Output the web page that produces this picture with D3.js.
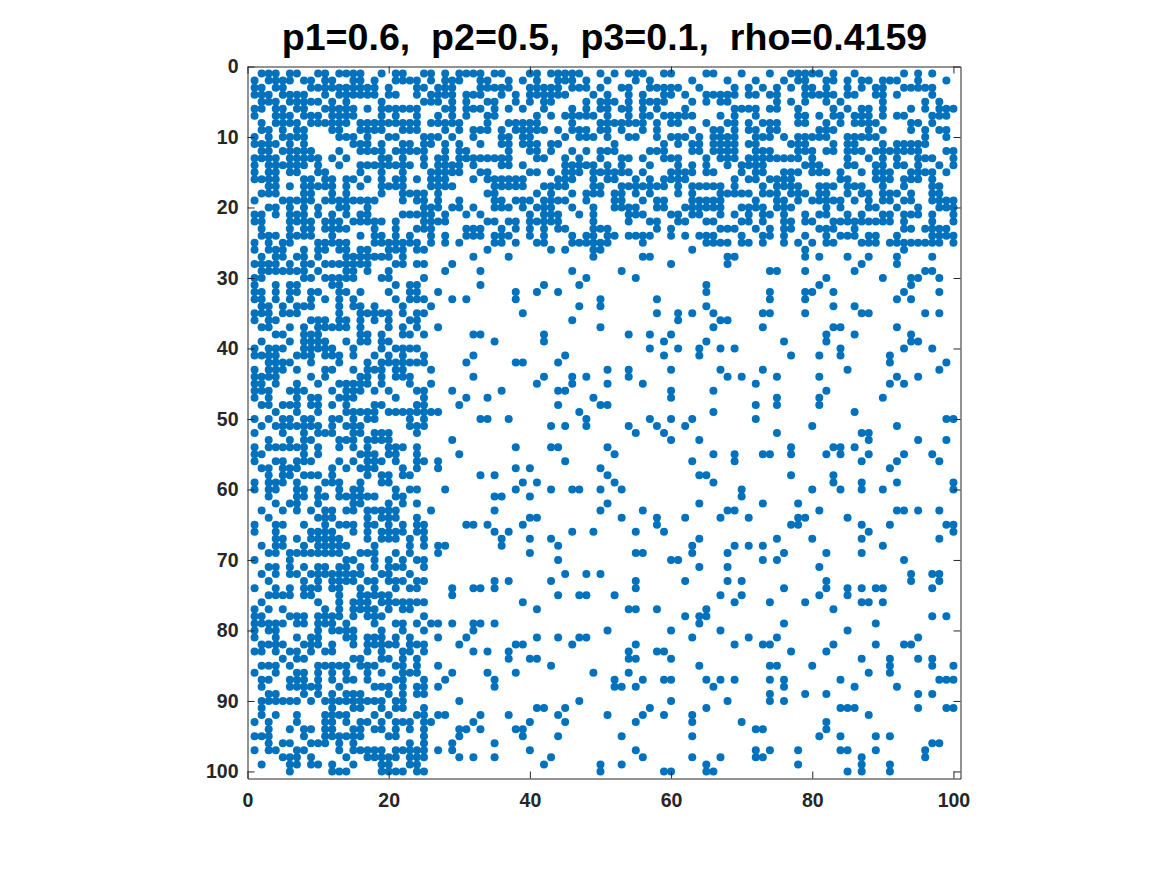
<!DOCTYPE html>
<html>
<head>
<meta charset="utf-8">
<script src="https://cdn.jsdelivr.net/npm/d3@7"></script>
<style>
  html, body { margin: 0; padding: 0; background: #fff; }
  svg { display: block; }
  text { font-family: "Liberation Sans", Arial, sans-serif; font-weight: bold; }
</style>
</head>
<body>
<div id="chart"></div>
<script>
const titleText = "p1=0.6,\u00a0\u00a0p2=0.5,\u00a0\u00a0p3=0.1,\u00a0\u00a0rho=0.4159";
const xTicks = [0, 20, 40, 60, 80, 100];
const yTicks = [0, 10, 20, 30, 40, 50, 60, 70, 80, 90, 100];

// nonzero columns per row (rows 1 to 100): columns 1-34
const leftCols = [
  [2,3,4,6,7,10,11,13,14,15,16,19,21,22,25,26,28,30,31,32],
  [1,3,4,5,6,8,9,11,12,15,16,18,21,22,23,24,26,28,29,30],
  [1,2,4,5,9,10,11,12,13,14,15,16,17,18,20,24,25,27,28,29],
  [1,2,3,5,6,7,8,11,13,14,15,16,17,18,20,21,24,26,27,28,29,31,32],
  [2,3,4,6,7,8,9,10,12,14,19,25,26,27,29,31],
  [1,2,4,5,7,8,11,12,13,14,15,17,19,20,21,22,23,24,28,29,31,32],
  [1,4,5,6,8,9,10,12,13,14,15,19,21,24,27,29,31],
  [2,4,5,6,7,9,10,11,12,13,14,16,17,18,19,20,21,22,23,24,26,27,28,29,30],
  [2,3,5,7,8,12,13,16,17,18,19,22,23,24,28,30,32],
  [1,3,5,6,7,8,13,14,15,17,20,21,25,26,27,29,32],
  [1,2,3,4,6,8,15,16,17,19,22,23,25,26,28,30],
  [2,3,5,6,7,8,9,13,16,17,18,19,21,22,23,24,25,28,30,31],
  [1,2,3,4,6,7,8,9,10,12,14,19,20,22,25,27,28,30,31,32],
  [1,3,4,5,6,7,8,10,13,16,17,18,19,20,21,22,23,25,27,28,29,30,32],
  [1,3,4,6,7,10,11,16,19,22,26,27,28,29,30],
  [1,2,3,4,8,9,11,12,14,15,17,19,21,22,24,26,27,28,32],
  [3,4,6,8,9,10,11,12,14,16,19,20,21,22,26,27,28,29],
  [2,3,4,8,9,12,14,19,22,23,24,25,27],
  [1,5,6,7,8,9,11,12,13,14,15,16,17,18,22,24,25,27,30],
  [3,4,6,8,10,13,14,17,25,26,27,29,30,32],
  [1,2,4,6,7,8,10,12,14,16,17,22,23,24,25,26,28,31],
  [1,2,6,7,8,9,11,12,13,15,16,17,18,19,21,25,26,27,28],
  [2,6,8,9,11,12,13,14,18,21,24,25,26,31,32],
  [2,3,4,6,7,8,9,12,16,18,19,21,23,26,28,31,32],
  [1,3,5,6,10,11,12,13,14,18,19,20,21,22,23,24,26,28,30],
  [1,3,4,5,8,10,11,13,14,16,17,20,21,22,24,25,34],
  [2,4,5,7,8,10,14,15,16,17,18,19,20,22,32],
  [1,2,3,4,6,8,9,11,12,13,14,15,16,17,21,22,24,25,29],
  [2,3,4,5,6,7,8,10,14,15,17,20,28,33],
  [1,2,8,9,11,12,13,14,15,19,20,25],
  [1,4,6,7,12,13,21,23,24,33],
  [1,2,4,6,7,9,10,13,14,16,20,23,24,27],
  [1,2,4,6,9,11,13,15,21,23,24,25,29,31],
  [2,3,5,7,8,9,13,15,16,18,22,26],
  [1,2,3,5,6,7,13,16,17,18,19,20,22,24,25],
  [1,3,4,9,10,11,13,14,16,18,20,23,24],
  [2,3,6,8,10,11,12,13,14,16,20,22,24,27],
  [4,5,8,9,10,16,17,19,22,23,25,32,33],
  [2,6,8,9,10,11,14,16,17,19,20],
  [1,3,4,5,8,9,10,11,12,15,19,21,22,23,24],
  [1,2,3,4,7,8,9,11,12,13,15,18,20,22,25,32],
  [3,4,5,6,9,13,17,19,20,21,22,23,24,25,31],
  [1,3,4,5,7,11,12,15,17,18,19,21,22,26],
  [1,2,3,4,9,11,16,17,19,21,22,23,32],
  [1,2,4,7,10,13,14,15,16,17,19,23,26],
  [1,2,3,6,7,8,12,14,15,16,18,20,24,25,29],
  [1,3,7,9,10,13,14,15,21,25,31,34],
  [2,3,5,6,7,9,10,12,14,18,19,24,25,30],
  [4,7,10,14,15,16,17,18,20,21,22,23,24,25,26,27],
  [1,3,5,6,8,9,12,13,15,17,18,23,25,33],
  [2,4,5,6,7,8,9,10,12,14,15,16,23,24,25],
  [1,5,8,10,11,12,15,16,18,19,20,24],
  [3,6,8,9,13,14,15,17,18,19,20,29],
  [1,3,4,5,6,7,8,10,13,15,17,20,21,22,24],
  [1,2,8,10,16,17,18,20,21,24,30],
  [1,4,5,7,8,9,13,15,17,18,19,21,24,25,27],
  [2,3,5,6,7,12,14,16,17,18,22,24,27],
  [3,5,6,8,9,10,12,17,19,20,22,23,33],
  [1,3,4,5,7,11,12,13,16,19,20],
  [1,3,4,7,8,10,13,15,16,21,23,24,28],
  [3,7,8,10,11,13,14,15,16,17,18,21,22],
  [4,6,7,10,15,16,20,22,24],
  [2,5,7,9,11,12,14,15,17,18,19,20,21,26],
  [3,10,11,12,17,19,20,21,24],
  [1,4,5,8,11,13,14,15,17,18,20,22,24,25,31,32,34],
  [1,4,9,10,11,12,15,17,19,20,21,22,24,25],
  [4,5,7,9,10,11,12,13,17,19,20,21,23,25],
  [2,4,5,8,10,11,12,13,14,18,23,25,27,28],
  [3,4,6,7,8,9,10,11,12,13,16,17,18,21,23,27],
  [1,6,14,15,18,20,22,24,25],
  [3,4,6,8,10,11,13,14,16,18,20,21,22,25],
  [2,4,6,7,9,10,11,12,13,14,15,16,19,20,23],
  [3,8,10,12,13,14,15,17,18,20,21,22,24,25],
  [1,4,6,8,9,10,12,13,16,18,21,23,24,29,32,33],
  [3,4,5,6,8,9,13,16,17,18,19,20,29],
  [2,10,13,15,16,17,19,20,21,22,23,24,25],
  [1,3,5,11,13,15,16,17,18,20,22,23],
  [1,2,6,7,8,10,11,12,13,15,17,18,19,25],
  [1,2,3,4,5,7,8,10,11,12,14,18,21,22,24,26,27,29,32,33],
  [1,3,4,10,12,13,14,15,19,22,25,32],
  [1,4,7,9,10,14,15,17,18,19,21,23,27,31],
  [2,3,4,5,8,9,10,12,15,17,18,19,20,21,23,24,25,30],
  [1,2,4,6,7,9,11,12,17,19,22,23,25,32,34],
  [5,7,8,15,16,19,20,22,24],
  [2,3,4,6,10,11,12,13,14,16,17,18,21,22,24,27],
  [1,4,7,8,10,12,14,17,19,22,23,24,29,34],
  [2,3,6,7,8,10,12,14,15,17,21,22,25,28],
  [2,6,7,8,9,10,13,18,19,20,22,24,25,27],
  [3,4,8,10,12,14,15,16,20,22,24,25],
  [2,3,4,5,6,7,9,11,12,13,14,15,16,17,18,19,21,22,30],
  [2,12,15,16,19,21,22,25],
  [2,4,7,11,12,13,14,18,20,24,25,27,28,33],
  [1,3,7,11,12,14,16,17,19,21,22,23,25,26,32],
  [3,6,8,9,11,12,15,16,18,19,21,23,25,30,31,33],
  [1,2,3,8,11,12,13,14,15,16,20,21,25,30],
  [3,5,6,9,10,11,13,15,23,25,29],
  [1,3,4,7,8,13,15,16,17,18,19,21,22,23,24,25,27,29],
  [5,6,7,9,14,17,18,19,20,21,23,24,25,30,32],
  [2,6,7,9,10,12,15,19,20,23,24],
  [6,12,13,14,19,20,21,22,24,25]
];

// columns 33-67
const midCols = [
  [33,35,36,40,41,43,44,45,46,47,50,52,54,55,56,59,60,65,66],
  [33,34,37,39,41,44,45,46,48,51,55,57,63],
  [33,34,35,36,37,40,41,42,43,44,46,47,48,50,53,54,57,58,59,60,61,64],
  [33,36,38,40,41,42,43,44,45,49,51,54,56,59,60,62,65,66,67],
  [34,35,38,40,42,43,48,50,51,52,54,56,57,58,59,63,65],
  [33,35,37,39,42,46,48,50,51,53,54,56,58,62],
  [34,35,41,43,45,46,47,48,49,51,54,56,57,59,60,61,62,63,67],
  [34,37,38,39,40,41,46,50,51,52,53,54,55,56,58,60,61,65],
  [33,34,36,38,39,40,41,42,44,46,47,48,50,51,53,56,58,63,66,67],
  [36,37,39,40,45,47,48,49,51,54,55,58,60,61,62,64,66,67],
  [33,36,37,39,40,41,43,44,52,59,61,63,64,66,67],
  [37,40,41,43,46,48,50,51,52,57,58,59,63,64,66],
  [33,34,35,36,37,41,42,45,47,50,53,54,56,59,60,61,65,67],
  [36,37,39,45,46,47,48,49,51,53,57,61,63,65],
  [33,34,40,41,43,45,46,47,49,50,51,52,53,54,56,60,61,62,63,65,66],
  [34,35,36,37,38,39,44,45,46,49,51,52,55,57,59,60,61,62],
  [35,36,37,38,39,42,43,44,45,49,50,53,54,55,56,57,58,59,61,63,64,65,66,67],
  [34,35,41,43,46,48,49,50,52,53,55,57,61,63,67],
  [35,36,38,39,40,42,43,44,45,48,52,53,56,58,59,63,64,65,66],
  [35,36,37,39,41,42,43,46,49,52,53,54,55,58,59,62,63,64,65,66,67],
  [33,40,42,43,44,47,49,54,55,56,60,61,63,64],
  [34,35,37,38,40,41,42,43,44,49,54,57,58,61,62,65,66],
  [33,36,38,40,42,44,45,49,50,51,58,60,67],
  [33,35,36,37,40,42,46,48,49,51,52,54,55,56,57,60,62,64,65,66],
  [35,36,38,41,42,46,47,48,49,50,51,56,65,66,67],
  [34,43,45,49,50,63],
  [37,49,56,57],
  [60],
  [33,46,53],
  [48,55],
  [33,42,47,65],
  [38,41,44,65],
  [38,50,58],
  [47,50,65],
  [39,58,61,63,66],
  [46,61,67],
  [50,66],
  [33,42,54,57,60],
  [35,42,59,65],
  [57,61,64,67],
  [45,59,64],
  [38,39,44],
  [51,54,60,67],
  [42,46,48,54],
  [41,46,51,56],
  [36,44,45,60,66],
  [34,49,60],
  [44,50,51],
  [47,66],
  [33,34,37,48,57,60,63],
  [43,45,48,54,58,62],
  [55,59],
  [60,64],
  [38,43,44,51],
  [52,66],
  [45,63],
  [38,40,50],
  [33,35,51,64,65],
  [39,41,52,66],
  [38,43,46,47,50,53],
  [35,36,40],
  [51,64],
  [35,50,56],
  [40,41,53,58,62,67],
  [34,39,58],
  [35,37,46,49,55,59],
  [36,40,43,64],
  [36,44,63],
  [40,55,56,63],
  [44,60,61],
  [64],
  [45,48,50],
  [35,37,43,55,62],
  [33,35,55],
  [44,47,48,52,67],
  [39],
  [41,54,55,58,65],
  [62,64,65],
  [33,35,64],
  [51,60,67],
  [41,44,47,48,63],
  [38,39,46,55],
  [34,37,54,58,59],
  [37,40,41,54,55,60],
  [43,64],
  [34,38,49,54],
  [35,52,56,59,60,65,67],
  [35,52,53,55,66],
  [],
  [47,60],
  [41,42,45,57,65],
  [33,37,44,51,56,59,63],
  [40,45,55,63],
  [33,38,39],
  [39,44,53,63],
  [35],
  [40,55],
  [35,43,56,63,67],
  [42,50,53,65],
  [50,59,60,65,66]
];

// columns 67-100
const rightCols = [
  [70,74,77,78,79,80,81,83,86,93,95,97],
  [68,72,76,78,79,82,83,85,87,88,90,91,92,95,99],
  [69,71,73,75,77,79,80,82,85,87,89,90,93,94,95,96,97],
  [67,68,69,71,72,74,75,79,80,81,82,83,85,86,89,90,92,97],
  [67,68,75,77,79,82,84,90,96,98],
  [69,70,71,72,74,75,78,83,85,87,88,90,94,96,98,99,100],
  [67,69,72,78,79,81,83,84,86,87,88,90,92,93,97,98,99],
  [68,69,71,73,74,75,78,79,82,84,86,87,88,89,94,95,97],
  [67,69,71,72,74,75,81,82,83,88,90,94,96,98,99],
  [67,68,69,72,73,74,76,78,79,80,81,82,85,86,87,88,89,96,99],
  [67,68,69,71,72,77,78,79,83,85,86,90,92,93,94,95,96],
  [67,68,69,72,73,74,78,79,80,82,83,85,86,87,89,90,91,92,93,94,95,99,100],
  [67,68,69,71,72,73,74,75,76,77,78,80,85,88,90,92,95,96,97,100],
  [68,70,71,72,73,79,80,81,85,86,89,90,92,93,95,98,100],
  [70,72,73,76,77,78,80,81,82,84,87,89,90,91,94,95,96,97,99],
  [69,71,72,74,75,76,77,84,85,89,90,91,93,94,95,97],
  [67,69,73,75,76,77,78,81,82,83,85,86,87,90,93,97,98],
  [68,69,70,71,73,74,75,77,78,79,81,82,85,87,88,90,91,92,94,97,98],
  [67,72,75,76,78,80,81,82,83,84,86,88,90,91,93,94,97,98,99,100],
  [67,70,71,72,73,75,76,77,82,84,88,89,92,95,98,99,100],
  [67,69,71,73,74,76,79,81,82,85,87,90,91,93,94,95,97,100],
  [70,71,73,76,77,79,80,83,84,85,86,87,88,89,90,91,93,97,100],
  [67,68,69,72,74,76,77,81,82,83,86,93,94,96,97,98,99],
  [70,73,74,76,79,82,84,85,86,88,89,92,97,98,99,100],
  [67,68,70,71,73,76,78,80,82,83,87,88,89,91,92,93,94,95,96,97,98,100],
  [79,93],
  [68,69,79,81,85,88,92,97],
  [68,87,92],
  [74,75,79,86,96,97],
  [82,90,94,95,98],
  [81,94],
  [74,79,80,83,93,98],
  [74,79,92,94],
  [83,86],
  [73,74,79,87,88,96,98],
  [67,68],
  [73,83,84,92],
  [82,86,94],
  [76,82,94,95],
  [67,69,84,93,97],
  [77,81,84,91],
  [91,99],
  [67,73,85,98],
  [68,70,75,81,92,95],
  [72,91,93],
  [82],
  [75,81,90],
  [72,75,81],
  [86],
  [72,99,100],
  [80,92],
  [75,87,88],
  [88,95,99],
  [77,83,84,86],
  [69,73,74,77,82,84,88,93,97],
  [69,87,92,98],
  [91],
  [77,83],
  [83,87,92,100],
  [70,80,84,87,90,100],
  [70],
  [73,78],
  [68,69,81,92,93,95,98],
  [67,71,78,79,85],
  [77,78,87,91,99,100],
  [88,100],
  [75,80,87,98],
  [69,71,73,90],
  [68,76,82,87],
  [73,75,93],
  [68,81],
  [94,97,98],
  [68,70,82,94,98],
  [76,82,85,87,89,90,97],
  [67,70,81,85],
  [69,74,79,87,88,90],
  [83],
  [97,99],
  [76,89],
  [67,85],
  [71,75,95],
  [69,73,74,83,89,93,94],
  [77,82],
  [87,91,95,97],
  [74,75,80,91,97,100],
  [88,91],
  [67,69,74,76,84,98,99,100],
  [76,86,92],
  [74,79,82,95,97],
  [68,74,76],
  [84,85,86,95,99,100],
  [88],
  [70,82],
  [72,73,82],
  [81,84,89,91],
  [97,98],
  [72,74,78,84,85,89,96],
  [67,72,73,87,96],
  [78,87,91],
  [85,87,91]
];

const width = 1167, height = 875;
const margin = { left: 247.5, top: 66.5, right: 960.5, bottom: 778.5 };

const svg = d3.select("#chart").append("svg")
    .attr("width", width)
    .attr("height", height);

const x = d3.scaleLinear().domain([0, 101]).range([margin.left, margin.right]);
const y = d3.scaleLinear().domain([0, 101]).range([margin.top, margin.bottom]);

// flatten the three column lists into one point per nonzero, dropping overlap
const points = [];
for (let r = 0; r < 100; r++) {
    const cols = new Set([...leftCols[r], ...midCols[r], ...rightCols[r]]);
    cols.forEach(c => points.push({ row: r + 1, col: c }));
}

svg.append("g")
    .selectAll("circle")
    .data(points)
    .enter()
    .append("circle")
    .attr("cx", d => x(d.col))
    .attr("cy", d => y(d.row))
    .attr("r", 4)
    .attr("fill", "#0072BD");

// box with inward ticks on all sides, labels only on left and bottom
function styleAxis(g) {
    g.selectAll("path").attr("stroke", "#262626").attr("stroke-width", 1);
    g.selectAll("line").attr("stroke", "#262626").attr("stroke-width", 1);
    g.selectAll("text")
        .attr("fill", "#262626")
        .style("font-size", "19.5px");
}

const tickLen = 7;

const bottomAxis = svg.append("g")
    .attr("transform", `translate(0,${margin.bottom})`)
    .call(d3.axisBottom(x).tickValues(xTicks).tickSizeInner(-tickLen).tickSizeOuter(0).tickPadding(15));
styleAxis(bottomAxis);

const topAxis = svg.append("g")
    .attr("transform", `translate(0,${margin.top})`)
    .call(d3.axisTop(x).tickValues(xTicks).tickSizeInner(-tickLen).tickSizeOuter(0).tickFormat(""));
styleAxis(topAxis);

const leftAxis = svg.append("g")
    .attr("transform", `translate(${margin.left},0)`)
    .call(d3.axisLeft(y).tickValues(yTicks).tickSizeInner(-tickLen).tickSizeOuter(0).tickPadding(9));
styleAxis(leftAxis);

const rightAxis = svg.append("g")
    .attr("transform", `translate(${margin.right},0)`)
    .call(d3.axisRight(y).tickValues(yTicks).tickSizeInner(-tickLen).tickSizeOuter(0).tickFormat(""));
styleAxis(rightAxis);

svg.append("text")
    .attr("x", 604.5)
    .attr("y", 50)
    .attr("text-anchor", "middle")
    .attr("fill", "#000")
    .style("font-size", "37.6px")
    .text(titleText);
</script>
</body>
</html>
